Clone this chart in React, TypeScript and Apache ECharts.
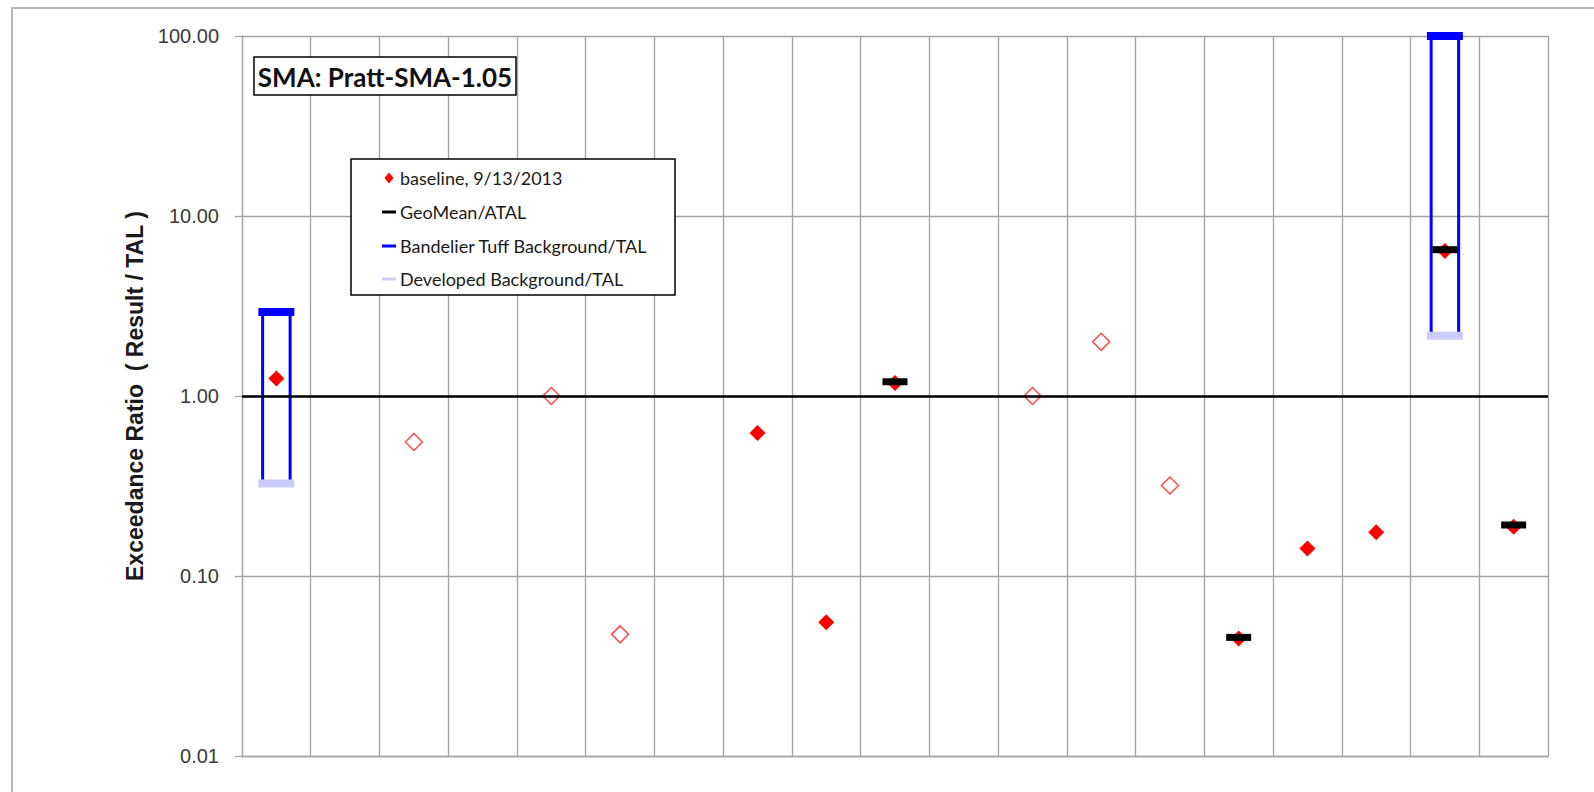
import React, { useEffect, useRef } from "react";
import * as echarts from "echarts";

const categories = [
  "C01", "C02", "C03", "C04", "C05", "C06", "C07", "C08", "C09", "C10",
  "C11", "C12", "C13", "C14", "C15", "C16", "C17", "C18", "C19",
];

// baseline, 9/13/2013 — detected results (filled diamonds)
const detectedValues = [
  1.25, null, null, null, null, null, null, 0.623, 0.0553, 1.18,
  null, null, null, null, 0.045, 0.142, 0.175, 6.4, 0.188,
];
// baseline, 9/13/2013 — non-detects (hollow diamonds)
const nonDetectValues = [
  null, null, 0.555, null, 1.0, 0.0474, null, null, null, null,
  null, 1.0, 2.0, 0.318, null, null, null, null, null,
];
// GeoMean/ATAL
const geoMeanValues = [
  null, null, null, null, null, null, null, null, null, 1.2,
  null, null, null, null, 0.0456, null, null, 6.5, 0.192,
];
// Bandelier Tuff Background/TAL
const bandelierValues = [
  2.93, null, null, null, null, null, null, null, null, null,
  null, null, null, null, null, null, null, 100, null,
];
// Developed Background/TAL
const developedValues = [
  0.326, null, null, null, null, null, null, null, null, null,
  null, null, null, null, null, null, null, 2.16, null,
];

const yTicks = [0.01, 0.1, 1, 10, 100];
const titleText = "SMA: Pratt-SMA-1.05";
const legendLabels = [
  "baseline, 9/13/2013",
  "GeoMean/ATAL",
  "Bandelier Tuff Background/TAL",
  "Developed Background/TAL",
];

const GRID = "#a3a3a3";

export default function App() {
  const ref = useRef<HTMLDivElement>(null);

  useEffect(() => {
    if (!ref.current) return;
    const chart = echarts.init(ref.current, null, { renderer: "svg" });

    const pairs = (vals: (number | null)[]) =>
      vals.map((v, i) => (v == null ? [i, null] : [i, v]));

    const rangeData: any[] = [];
    bandelierValues.forEach((b, i) => {
      const d = developedValues[i];
      if (b != null && d != null) rangeData.push([i, b, d]);
    });

    const legendRowsY = [178, 212, 246, 279];
    const legendGraphics: any[] = [
      {
        type: "rect",
        z: 100,
        shape: { x: 351, y: 159, width: 324, height: 136 },
        style: { fill: "#fff", stroke: "#000", lineWidth: 1.5 },
      },
      {
        type: "polygon",
        z: 101,
        shape: {
          points: [
            [389, legendRowsY[0] - 5.5],
            [393.5, legendRowsY[0]],
            [389, legendRowsY[0] + 5.5],
            [384.5, legendRowsY[0]],
          ],
        },
        style: { fill: "#ff0000" },
      },
      ...["#000000", "#0000ff", "#ccccff"].map((c, k) => ({
        type: "line",
        z: 101,
        shape: { x1: 382, y1: legendRowsY[k + 1], x2: 396, y2: legendRowsY[k + 1] },
        style: { stroke: c, lineWidth: 3 },
      })),
      ...legendLabels.map((t, k) => ({
        type: "text",
        z: 101,
        x: 400,
        y: legendRowsY[k],
        style: {
          text: t,
          fontFamily: "Lato",
          fontSize: 18,
          fill: "#1a1a1a",
          verticalAlign: "middle",
          align: "left",
        },
      })),
    ];

    const option: any = {
      animation: false,
      backgroundColor: "#ffffff",
      grid: { left: 242, right: 46, top: 36, bottom: 36, containLabel: false },
      xAxis: {
        type: "category",
        data: categories,
        boundaryGap: true,
        axisLine: { show: true, lineStyle: { color: GRID, width: 1.3 } },
        axisTick: { show: false },
        axisLabel: { show: false },
        splitLine: { show: true, interval: 0, lineStyle: { color: GRID, width: 1.3 } },
      },
      yAxis: {
        type: "log",
        logBase: 10,
        min: yTicks[0],
        max: yTicks[yTicks.length - 1],
        name: "Exceedance Ratio  ( Result / TAL )",
        nameLocation: "middle",
        nameGap: 96,
        nameTextStyle: {
          fontFamily: "Liberation Sans",
          fontSize: 23,
          fontWeight: "bold",
          color: "#1a1a1a",
        },
        axisLine: { show: true, lineStyle: { color: GRID, width: 1.3 } },
        axisTick: { show: true, length: 7, lineStyle: { color: GRID, width: 1.3 } },
        axisLabel: {
          margin: 23,
          fontFamily: "Liberation Sans",
          fontSize: 20,
          color: "#3a3a3a",
          formatter: (v: number) => v.toFixed(2),
        },
        splitLine: { show: true, lineStyle: { color: GRID, width: 1.3 } },
      },
      graphic: [
        {
          type: "rect",
          z: 100,
          shape: { x: 12, y: 8, width: 1700, height: 900 },
          style: { fill: "none", stroke: "#b5b5b5", lineWidth: 2 },
          silent: true,
        },
        {
          type: "rect",
          z: 100,
          shape: { x: 254, y: 57, width: 262, height: 38 },
          style: { fill: "#fff", stroke: "#000", lineWidth: 1.5 },
        },
        {
          type: "text",
          z: 101,
          x: 385,
          y: 76.5,
          style: {
            text: titleText,
            fontFamily: "Lato",
            fontWeight: "bold",
            fontSize: 26,
            fill: "#111",
            align: "center",
            verticalAlign: "middle",
          },
        },
        ...legendGraphics,
      ],
      series: [
        {
          type: "custom",
          name: "range",
          data: rangeData,
          clip: false,
          z: 2,
          renderItem: (params: any, api: any) => {
            const i = api.value(0);
            const top = api.coord([i, api.value(1)]);
            const bot = api.coord([i, api.value(2)]);
            const bw = api.size([1, 0])[0];
            const off = bw * 0.2;
            return {
              type: "group",
              children: [
                {
                  type: "line",
                  shape: { x1: top[0] - off, y1: top[1], x2: bot[0] - off, y2: bot[1] },
                  style: { stroke: "#0000ff", lineWidth: 3 },
                },
                {
                  type: "line",
                  shape: { x1: top[0] + off, y1: top[1], x2: bot[0] + off, y2: bot[1] },
                  style: { stroke: "#0000ff", lineWidth: 3 },
                },
              ],
            };
          },
          markLine: {
            silent: true,
            symbol: ["none", "none"],
            label: { show: false },
            lineStyle: { color: "#000", width: 2.5, type: "solid", opacity: 1 },
            data: [{ yAxis: 1 }],
          },
        },
        {
          type: "scatter",
          name: "Bandelier Tuff Background/TAL",
          data: pairs(bandelierValues),
          symbol: "rect",
          symbolSize: [36, 8],
          clip: false,
          z: 3,
          itemStyle: { color: "#0000ff", opacity: 1 },
        },
        {
          type: "scatter",
          name: "Developed Background/TAL",
          data: pairs(developedValues),
          symbol: "rect",
          symbolSize: [36, 8],
          clip: false,
          z: 3,
          itemStyle: { color: "#ccccff", opacity: 1 },
        },
        {
          type: "scatter",
          name: "baseline, 9/13/2013",
          data: pairs(detectedValues),
          symbol: "diamond",
          symbolSize: 16,
          z: 4,
          itemStyle: { color: "#ff0000", opacity: 1 },
        },
        {
          type: "scatter",
          name: "baseline, 9/13/2013 (ND)",
          data: pairs(nonDetectValues),
          symbol: "diamond",
          symbolSize: 17,
          z: 4,
          itemStyle: {
            color: "rgba(255,255,255,0)",
            borderColor: "#ff4a4a",
            borderWidth: 1.5,
            opacity: 1,
          },
        },
        {
          type: "scatter",
          name: "GeoMean/ATAL",
          data: pairs(geoMeanValues),
          symbol: "rect",
          symbolSize: [25, 7],
          z: 5,
          itemStyle: { color: "#000000", opacity: 1 },
        },
      ],
    };

    chart.setOption(option);
    return () => chart.dispose();
  }, []);

  return (
    <div
      ref={ref}
      style={{
        position: "fixed",
        left: 0,
        top: 0,
        width: 1594,
        height: 792,
        background: "#fff",
      }}
    />
  );
}
